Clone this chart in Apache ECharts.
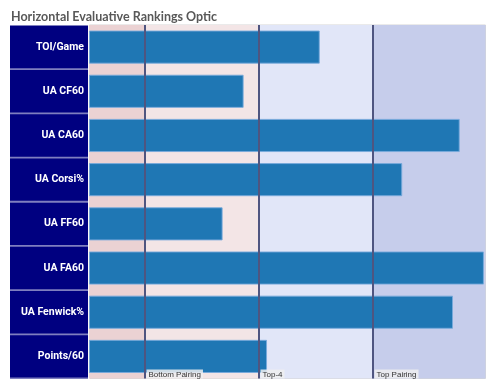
<!DOCTYPE html>
<html>
<head>
<meta charset="utf-8">
<script src="https://cdn.jsdelivr.net/npm/echarts@6/dist/echarts.min.js"></script>
<style>html,body{margin:0;padding:0;background:#fff;}#chart{width:494px;height:385px;}</style>
</head>
<body>
<div id="chart"></div>
<script>
const categories = ['TOI/Game','UA CF60','UA CA60','UA Corsi%','UA FF60','UA FA60','UA Fenwick%','Points/60'];
const values = [58.2, 39.0, 93.5, 79.0, 33.7, 99.6, 91.8, 44.9];
const axisMax = 100;
const thresholds = [14, 42.75, 71.5];
const tierLabels = ['Bottom Pairing', 'Top-4', 'Top Pairing'];
const bandColors = ['#ebd2d3', '#f3e5e6', '#e1e6f8', '#c6cdeb'];

const bandEdges = [0].concat(thresholds).concat([axisMax]);
const bands = [];
for (let i = 0; i < bandEdges.length - 1; i++) {
  bands.push([
    { xAxis: bandEdges[i], itemStyle: { color: bandColors[i] } },
    { xAxis: bandEdges[i + 1] }
  ]);
}

const chart = echarts.init(document.getElementById('chart'));
chart.setOption({
  animation: false,
  title: {
    text: 'Horizontal Evaluative Rankings Optic',
    left: 6, top: 5,
    textStyle: { fontFamily: 'Lato', fontWeight: 'bold', fontSize: 12.5, color: '#585858' }
  },
  graphic: [{
    type: 'rect', z: -1, silent: true,
    shape: { x: 10, y: 25, width: 78, height: 354 },
    style: { fill: '#7f7fbf' }
  }],
  grid: {
    left: 89, right: 8.5, top: 25, bottom: 6.5,
    show: true, borderColor: '#d4d4d4', borderWidth: 1, backgroundColor: 'transparent'
  },
  xAxis: {
    type: 'value', min: 0, max: axisMax,
    axisLine: { show: false }, axisTick: { show: false },
    axisLabel: { show: false }, splitLine: { show: false }
  },
  yAxis: {
    type: 'category', data: categories, inverse: true,
    axisLine: { show: true, lineStyle: { color: '#ffffff', width: 1.5 } },
    axisTick: { show: false }, splitLine: { show: false },
    axisLabel: {
      margin: 1,
      width: 74, height: 42.4, lineHeight: 42.4,
      padding: [0, 4, 0, 0],
      align: 'right',
      backgroundColor: '#000080',
      color: '#ffffff',
      fontFamily: 'Roboto', fontWeight: 'bold', fontSize: 10.5,
      overflow: 'none'
    }
  },
  series: [{
    type: 'line',
    data: [],
    z: 1,
    silent: true,
    markArea: { silent: true, data: bands }
  }, {
    type: 'bar',
    data: values,
    barCategoryGap: '25%',
    itemStyle: { color: '#1f77b4', borderColor: 'rgba(120,170,220,0.9)', borderWidth: 1 },
    z: 2
  }, {
    type: 'line',
    data: [],
    z: 10,
    silent: true,
    markLine: {
      silent: true,
      z: 10,
      symbol: 'none',
      lineStyle: { color: '#4f5580', width: 2, type: 'solid', opacity: 1 },
      label: {
        show: true,
        position: 'end',
        align: 'left',
        verticalAlign: 'bottom',
        distance: 0,
        offset: [2, 0],
        fontFamily: 'Liberation Sans', fontSize: 8, color: '#333',
        backgroundColor: 'rgba(238,238,240,0.85)',
        padding: [1, 2, 0, 2]
      },
      data: thresholds.map((t, i) => ({ xAxis: t, label: { formatter: tierLabels[i] } }))
    }
  }]
});
</script>
</body>
</html>
